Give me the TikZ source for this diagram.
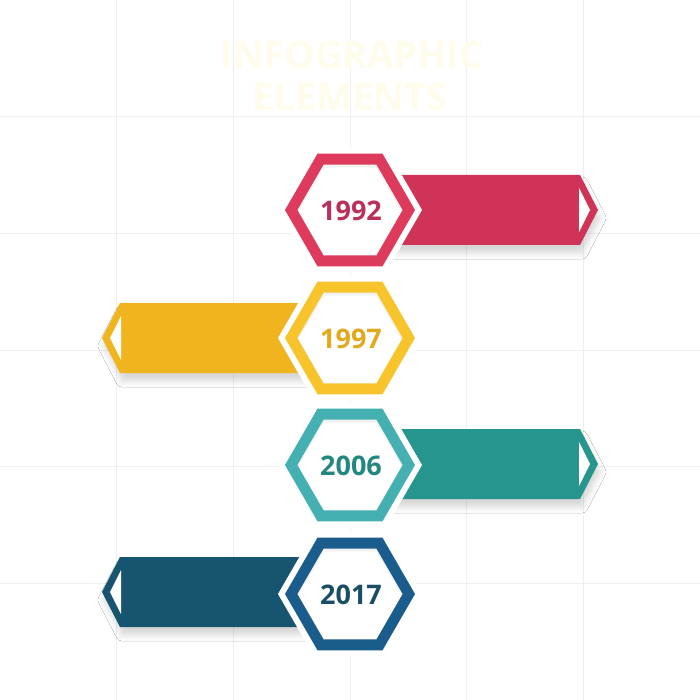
\documentclass[tikz,border=0pt]{standalone}
\usepackage{fontspec}
\setmainfont{Open Sans}
\usetikzlibrary{shadows.blur}
\definecolor{gridc}{HTML}{EFEFEF}
\definecolor{titlec}{HTML}{FFFCEC}
\definecolor{ribred}{HTML}{CF3357}
\definecolor{hexred}{HTML}{DE3A5C}
\definecolor{txtred}{HTML}{B93058}
\definecolor{ribyel}{HTML}{F0B41E}
\definecolor{hexyel}{HTML}{F7C52B}
\definecolor{txtyel}{HTML}{E2A91E}
\definecolor{ribteal}{HTML}{26958D}
\definecolor{hexteal}{HTML}{44B0B1}
\definecolor{txtteal}{HTML}{22877F}
\definecolor{ribnavy}{HTML}{175470}
\definecolor{hexnavy}{HTML}{1A5C8C}
\definecolor{txtnavy}{HTML}{1A4D66}
\tikzset{
  ribshadow/.style={blur shadow={shadow xshift=2pt, shadow yshift=-8pt, shadow opacity=16, shadow blur radius=6pt}},
  yeartxt/.style={font=\bfseries\fontsize{27}{27}\selectfont, inner sep=0pt},
  titletxt/.style={font=\bfseries\fontsize{38}{38}\selectfont, text=titlec, inner sep=0pt}
}
% hexagon path: center x, center y, radius
\newcommand\hexp[3]{(#1+#3,#2) -- (#1+0.5*#3,#2+0.866*#3) -- (#1-0.5*#3,#2+0.866*#3) -- (#1-#3,#2) -- (#1-0.5*#3,#2-0.866*#3) -- (#1+0.5*#3,#2-0.866*#3) -- cycle}
% right ribbon: cy, colour
\newcommand\ribR[2]{%
  \fill[#2, ribshadow] (390,#1-35) -- (580,#1-35) -- (598,#1) -- (580,#1+35) -- (390,#1+35) -- cycle;
  \fill[white] (579,#1-22) -- (590,#1) -- (579,#1+22) -- cycle;}
\newcommand\ribL[2]{%
  \fill[#2, ribshadow] (310,#1-35) -- (120,#1-35) -- (102,#1) -- (120,#1+35) -- (310,#1+35) -- cycle;
  \fill[white] (121,#1-22) -- (110,#1) -- (121,#1+22) -- cycle;}
\newcommand\hexagonal[2]{%
  \fill[white] \hexp{350}{#1}{72};
  \fill[#2] \hexp{350}{#1}{65};
  \fill[white] \hexp{350}{#1}{52.5};
  \begin{scope}
    \clip \hexp{350}{#1}{52.5};
    \fill[black, opacity=0.05] \hexp{350}{#1+3}{52.5} [even odd rule] \hexp{350}{#1}{52.5};
  \end{scope}}
\begin{document}
\begin{tikzpicture}[x=1pt,y=-1pt]
\useasboundingbox (0,0) rectangle (700,700);
\fill[white] (0,0) rectangle (700,700);
\foreach \i in {1,...,5} {
  \draw[gridc, line width=1pt] (\i*116.67,0) -- (\i*116.67,700);
  \draw[gridc, line width=1pt] (0,\i*116.67) -- (700,\i*116.67);
}
% title
\node[titletxt] (title1) at (352,55) {INFOGRAPHIC};
\node[titletxt] (title2) at (350,97) {ELEMENTS};
% 1992
\ribR{210}{ribred}
\hexagonal{210}{hexred}
\node[yeartxt, text=txtred] (y1992) at (351,211) {1992};
% 1997
\ribL{338}{ribyel}
\hexagonal{338}{hexyel}
\node[yeartxt, text=txtyel] (y1997) at (351,339) {1997};
% 2006
\ribR{464}{ribteal}
\hexagonal{465}{hexteal}
\node[yeartxt, text=txtteal] (y2006) at (351,466) {2006};
% 2017
\ribL{592}{ribnavy}
\hexagonal{594}{hexnavy}
\node[yeartxt, text=txtnavy] (y2017) at (351,595) {2017};
\end{tikzpicture}
\end{document}
